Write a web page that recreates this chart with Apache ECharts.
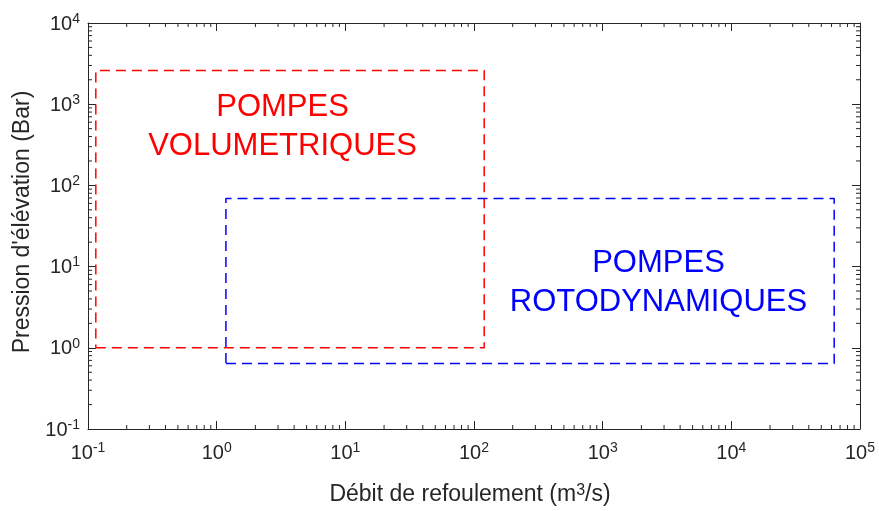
<!DOCTYPE html>
<html>
<head>
<meta charset="utf-8">
<script src="https://cdn.jsdelivr.net/npm/echarts@6/dist/echarts.min.js"></script>
<style>html,body{margin:0;padding:0;background:#fff}#c{width:879px;height:511px}</style>
</head>
<body>
<div id="c"></div>
<script>
// ---- data ----
const xRange = [0.1, 100000];
const yRange = [0.1, 10000];
const redX = [0.115, 120];
const redY = [1.0, 2600];
const blueX = [1.18, 63000];
const blueY = [0.64, 69];
const redText = ['POMPES', 'VOLUMETRIQUES'];
const redTextAt = [3.25, 525];
const blueText = ['POMPES', 'ROTODYNAMIQUES'];
const blueTextAt = [2716, 6.25];
const xTitle = 'Débit de refoulement (m{s|3}/s)';
const yTitle = "Pression d'élévation (Bar)";

const FONT = '"Liberation Sans", Arial, Helvetica, sans-serif';
const AX = '#262626';

function boxPath(xs, ys) {
  return [[xs[0], ys[0]], [xs[1], ys[0]], [xs[1], ys[1]], [xs[0], ys[1]], [xs[0], ys[0]]];
}
function minorValues(r) {
  const out = [];
  const a = Math.round(Math.log10(r[0])), b = Math.round(Math.log10(r[1]));
  for (let e = a; e < b; e++) for (let m = 2; m <= 9; m++) out.push(m * Math.pow(10, e));
  return out;
}
const xMinor = minorValues(xRange).map(v => [v, 1, 0]);
const yMinor = minorValues(yRange).map(v => [1, v, 1]);

const supFmt = v => '{b|10}{s|' + Math.round(Math.log10(v)) + '}';
const rich = {
  b: { fontSize: 20, fontFamily: FONT, color: AX, lineHeight: 22, verticalAlign: 'bottom' },
  s: { fontSize: 14, fontFamily: FONT, color: AX, lineHeight: 14, padding: [0, 0, 10, 0], verticalAlign: 'top' }
};

function mkAxis(type, pos, labels, range) {
  return {
    type: 'log', logBase: 10, position: pos, min: range[0], max: range[1],
    splitNumber: type === 'x' ? 6 : 5,
    axisLine: { show: true, onZero: false, lineStyle: { color: AX, width: 1 } },
    axisTick: { show: true, inside: true, length: 8, lineStyle: { color: AX, width: 1 } },
    splitLine: { show: false },
    axisLabel: labels ? { show: true, formatter: supFmt, rich: rich, margin: type === 'x' ? 12 : 8 } : { show: false }
  };
}

const textLabel = (lines, color) => ({
  show: true, position: 'inside', formatter: lines.join('\n'), opacity: 1,
  fontSize: 31, fontFamily: FONT, color: color, lineHeight: 39, align: 'center', verticalAlign: 'middle'
});

const option = {
  backgroundColor: '#fff',
  animation: false,
  grid: { left: 88, right: 19, top: 23, bottom: 82, containLabel: false, outerBoundsMode: 'none' },
  xAxis: [
    Object.assign(mkAxis('x', 'bottom', true, xRange), {
      name: xTitle, nameLocation: 'middle', nameGap: 54,
      nameTextStyle: { fontSize: 23, fontFamily: FONT, color: AX, padding: [0, 8, 0, 0],
        rich: { s: { fontSize: 16, fontFamily: FONT, color: AX, lineHeight: 16, padding: [0, 0, 20, 0], verticalAlign: 'top' } } }
    }),
    mkAxis('x', 'top', false, xRange)
  ],
  yAxis: [
    Object.assign(mkAxis('y', 'left', true, yRange), {
      name: yTitle, nameLocation: 'middle', nameGap: 53,
      nameTextStyle: { fontSize: 23, fontFamily: FONT, color: AX, padding: [0, 0, 0, 8] }
    }),
    mkAxis('y', 'right', false, yRange)
  ],
  series: [
    {
      type: 'line', data: boxPath(redX, redY), symbol: 'none', silent: true,
      lineStyle: { color: '#ff0000', width: 1.5, type: [10, 6] }
    },
    {
      type: 'line', data: boxPath(blueX, blueY), symbol: 'none', silent: true,
      lineStyle: { color: '#0000ff', width: 1.5, type: [10, 6] }
    },
    {
      type: 'scatter', symbol: 'circle', symbolSize: 0, silent: true,
      itemStyle: { color: 'rgba(0,0,0,0)', opacity: 1 },
      data: [{ value: redTextAt, label: textLabel(redText, '#ff0000') },
             { value: blueTextAt, label: textLabel(blueText, '#0000ff') }]
    },
    {
      type: 'custom', silent: true, clip: false,
      data: xMinor.concat(yMinor),
      renderItem: function (params, api) {
        const cs = params.coordSys;
        const L = 4;
        const style = { stroke: AX, lineWidth: 1 };
        if (api.value(2) === 0) {
          const p = api.coord([api.value(0), 1]);
          return { type: 'group', children: [
            { type: 'line', shape: { x1: p[0], y1: cs.y + cs.height, x2: p[0], y2: cs.y + cs.height - L }, style: style },
            { type: 'line', shape: { x1: p[0], y1: cs.y, x2: p[0], y2: cs.y + L }, style: style }
          ]};
        } else {
          const p = api.coord([1, api.value(1)]);
          return { type: 'group', children: [
            { type: 'line', shape: { x1: cs.x, y1: p[1], x2: cs.x + L, y2: p[1] }, style: style },
            { type: 'line', shape: { x1: cs.x + cs.width, y1: p[1], x2: cs.x + cs.width - L, y2: p[1] }, style: style }
          ]};
        }
      }
    }
  ]
};

const chart = echarts.init(document.getElementById('c'), null, { renderer: 'canvas' });
chart.setOption(option);
</script>
</body>
</html>
